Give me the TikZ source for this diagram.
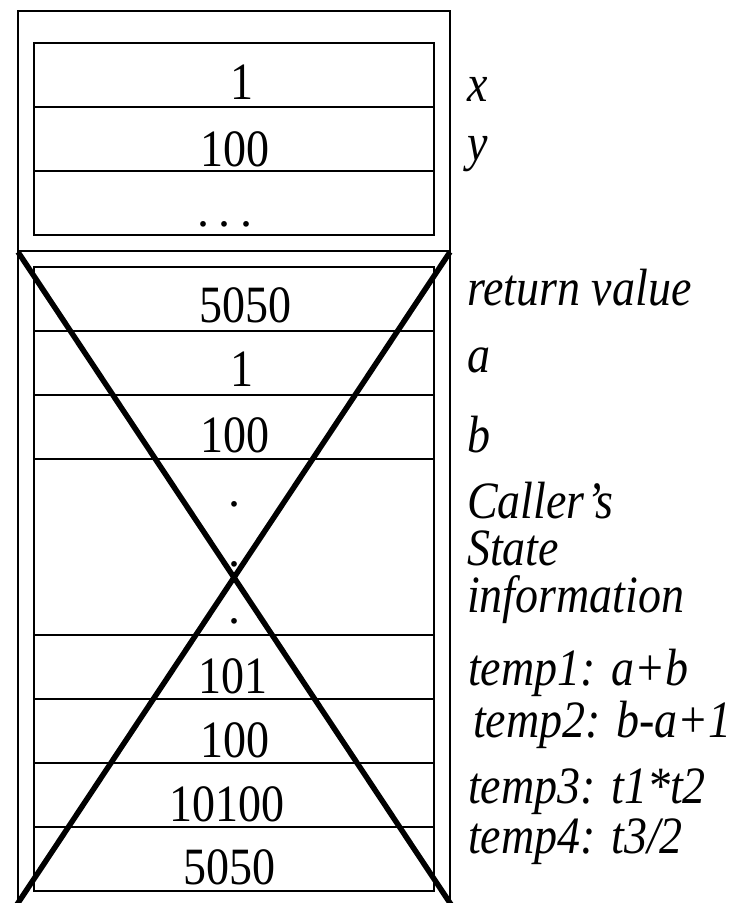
\documentclass[tikz,border=0pt]{standalone}
\usepackage{graphicx}
\usepackage{fontspec}
\setmainfont{Liberation Serif}
\newcommand{\tall}[1]{\scalebox{1}[1.14]{#1}}
\begin{document}
\begin{tikzpicture}[x=1pt,y=-1pt,
  thin box/.style={line width=1.3pt},
  cross/.style={line width=5.5pt},
  val/.style={anchor=base,inner sep=0pt,font=\fontsize{46}{54}\selectfont},
  lbl/.style={anchor=base west,inner sep=0pt,font=\fontsize{46}{54}\selectfont\itshape},
  dotnode/.style={anchor=base,inner sep=0pt,font=\fontsize{48}{54}\selectfont}]
\useasboundingbox (0,0) rectangle (733,903);
\clip (0,0) rectangle (733,903);
\fill[white] (0,0) rectangle (733,903);
% outer frame
\draw[thin box] (18,910) -- (18,11) -- (450,11) -- (450,910);
\draw[thin box] (18,251) -- (450,251);
% top inner box
\draw[thin box] (34,43) rectangle (434,235);
\draw[thin box] (34,107) -- (434,107);
\draw[thin box] (34,171) -- (434,171);
% lower inner box
\draw[thin box] (34,267) rectangle (434,891);
\foreach \yy in {331,395,459,635,699,763,827}
  \draw[thin box] (34,\yy) -- (434,\yy);
% values top
\node[val] (vx) at (242,99) {\tall{1}};
\node[val] (vy) at (235,166) {\tall{100}};
\node[dotnode] (vdots) at (225,226) {.\kern10pt.\kern10pt.};
% values lower
\node[val] (vret) at (245,322) {\tall{5050}};
\node[val] (va) at (242,386) {\tall{1}};
\node[val] (vb) at (235,452) {\tall{100}};
\node[dotnode] (d1) at (234,506) {.};
\node[dotnode] (d2) at (234,566) {.};
\node[dotnode] (d3) at (234,623) {.};
\node[val] (t1) at (233,693) {\tall{101}};
\node[val] (t2) at (235,757) {\tall{100}};
\node[val] (t3) at (227,821) {\tall{10100}};
\node[val] (t4) at (229,884) {\tall{5050}};
% labels
\node[lbl] (lx) at (467,101) {\tall{x}};
\node[lbl] (ly) at (467,160) {\tall{y}};
\node[lbl] (lret) at (467,305) {\tall{return value}};
\node[lbl] (la) at (467,372) {\tall{a}};
\node[lbl] (lb) at (467,452) {\tall{b}};
\node[lbl] (lc1) at (467,518) {\tall{Caller’s}};
\node[lbl] (lc2) at (467,565) {\tall{State}};
\node[lbl] (lc3) at (467,612) {\tall{information}};
\node[lbl] (lt1) at (468,685) {\tall{temp1: a+b}};
\node[lbl] (lt2) at (473,737) {\tall{temp2: b-a+1}};
\node[lbl] (lt3) at (468,803) {\tall{temp3: t1*t2}};
\node[lbl] (lt4) at (468,853) {\tall{temp4: t3/2}};
% cross
\coordinate (ctl) at (18,252);
\coordinate (ctr) at (450,252);
\coordinate (cbl) at (14,909);
\coordinate (cbr) at (454,909);
\draw[cross] (ctl) -- (cbr);
\draw[cross] (ctr) -- (cbl);
\end{tikzpicture}
\end{document}
